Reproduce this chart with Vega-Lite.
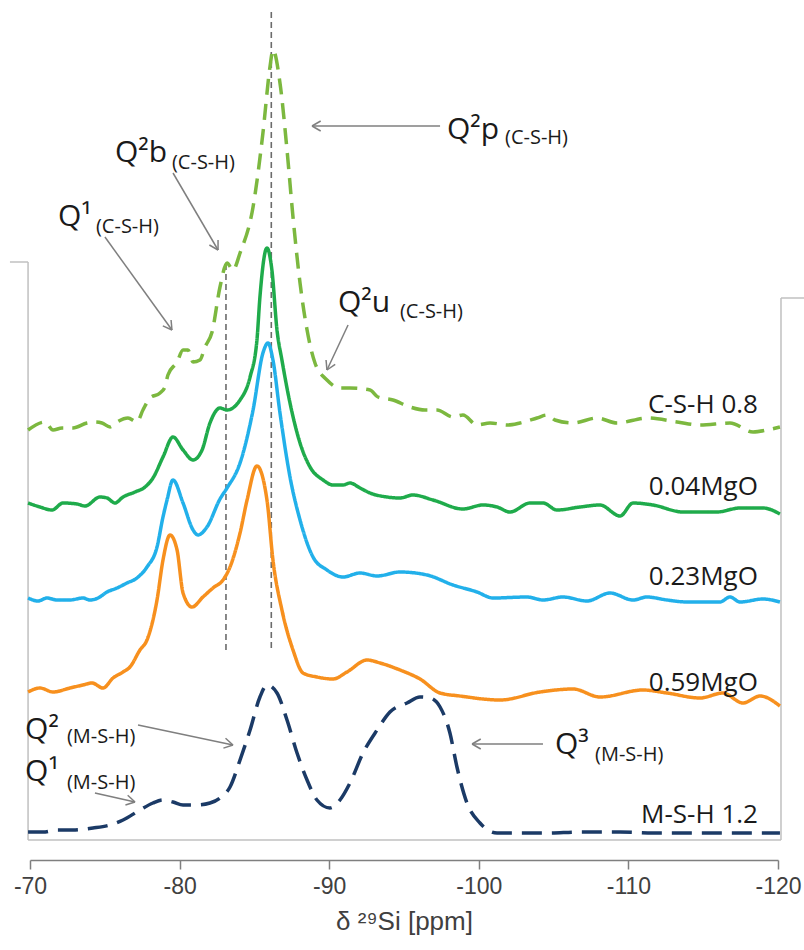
{
  "$schema": "https://vega.github.io/schema/vega-lite/v6.json",
  "width": 748,
  "height": 830,
  "autosize": {"type": "none"},
  "padding": {"left": 30, "top": 10, "right": 26, "bottom": 110},
  "background": "white",
  "config": {"view": {"stroke": null}},
  "datasets": {
    "spectra": [
      {"s":"C-S-H 0.8","ppm":-69.87,"y":410},{"s":"C-S-H 0.8","ppm":-71.00,"y":418},{"s":"C-S-H 0.8","ppm":-71.54,"y":410},{"s":"C-S-H 0.8","ppm":-72.14,"y":412},{"s":"C-S-H 0.8","ppm":-72.87,"y":412},{"s":"C-S-H 0.8","ppm":-73.81,"y":417},{"s":"C-S-H 0.8","ppm":-74.34,"y":418},{"s":"C-S-H 0.8","ppm":-74.81,"y":417},{"s":"C-S-H 0.8","ppm":-75.35,"y":413},{"s":"C-S-H 0.8","ppm":-75.82,"y":418},{"s":"C-S-H 0.8","ppm":-76.55,"y":422},{"s":"C-S-H 0.8","ppm":-77.15,"y":418},{"s":"C-S-H 0.8","ppm":-77.55,"y":430},{"s":"C-S-H 0.8","ppm":-78.02,"y":442},{"s":"C-S-H 0.8","ppm":-78.69,"y":447},{"s":"C-S-H 0.8","ppm":-79.02,"y":453},{"s":"C-S-H 0.8","ppm":-79.22,"y":465},{"s":"C-S-H 0.8","ppm":-79.83,"y":478},{"s":"C-S-H 0.8","ppm":-80.23,"y":490},{"s":"C-S-H 0.8","ppm":-80.56,"y":490},{"s":"C-S-H 0.8","ppm":-80.90,"y":478},{"s":"C-S-H 0.8","ppm":-81.36,"y":480},{"s":"C-S-H 0.8","ppm":-81.70,"y":493},{"s":"C-S-H 0.8","ppm":-82.17,"y":508},{"s":"C-S-H 0.8","ppm":-82.70,"y":553},{"s":"C-S-H 0.8","ppm":-83.17,"y":577},{"s":"C-S-H 0.8","ppm":-83.57,"y":570},{"s":"C-S-H 0.8","ppm":-84.04,"y":587},{"s":"C-S-H 0.8","ppm":-84.91,"y":633},{"s":"C-S-H 0.8","ppm":-85.57,"y":707},{"s":"C-S-H 0.8","ppm":-86.04,"y":773},{"s":"C-S-H 0.8","ppm":-86.24,"y":790},{"s":"C-S-H 0.8","ppm":-86.71,"y":757},{"s":"C-S-H 0.8","ppm":-87.18,"y":690},{"s":"C-S-H 0.8","ppm":-87.58,"y":623},{"s":"C-S-H 0.8","ppm":-88.05,"y":557},{"s":"C-S-H 0.8","ppm":-88.52,"y":510},{"s":"C-S-H 0.8","ppm":-89.05,"y":477},{"s":"C-S-H 0.8","ppm":-89.85,"y":460},{"s":"C-S-H 0.8","ppm":-90.72,"y":452},{"s":"C-S-H 0.8","ppm":-91.39,"y":452},{"s":"C-S-H 0.8","ppm":-92.73,"y":450},{"s":"C-S-H 0.8","ppm":-93.26,"y":443},{"s":"C-S-H 0.8","ppm":-94.26,"y":440},{"s":"C-S-H 0.8","ppm":-95.40,"y":433},{"s":"C-S-H 0.8","ppm":-96.40,"y":430},{"s":"C-S-H 0.8","ppm":-97.21,"y":430},{"s":"C-S-H 0.8","ppm":-98.28,"y":423},{"s":"C-S-H 0.8","ppm":-98.94,"y":425},{"s":"C-S-H 0.8","ppm":-99.88,"y":415},{"s":"C-S-H 0.8","ppm":-100.75,"y":417},{"s":"C-S-H 0.8","ppm":-101.95,"y":415},{"s":"C-S-H 0.8","ppm":-102.75,"y":417},{"s":"C-S-H 0.8","ppm":-103.89,"y":422},{"s":"C-S-H 0.8","ppm":-104.56,"y":425},{"s":"C-S-H 0.8","ppm":-105.09,"y":420},{"s":"C-S-H 0.8","ppm":-106.30,"y":417},{"s":"C-S-H 0.8","ppm":-107.90,"y":422},{"s":"C-S-H 0.8","ppm":-109.24,"y":417},{"s":"C-S-H 0.8","ppm":-111.24,"y":422},{"s":"C-S-H 0.8","ppm":-113.25,"y":418},{"s":"C-S-H 0.8","ppm":-114.79,"y":415},{"s":"C-S-H 0.8","ppm":-116.79,"y":417},{"s":"C-S-H 0.8","ppm":-118.33,"y":408},{"s":"C-S-H 0.8","ppm":-119.27,"y":410},{"s":"C-S-H 0.8","ppm":-120.13,"y":413},

      {"s":"0.04MgO","ppm":-69.87,"y":337},{"s":"0.04MgO","ppm":-70.67,"y":333},{"s":"0.04MgO","ppm":-71.47,"y":330},{"s":"0.04MgO","ppm":-72.21,"y":337},{"s":"0.04MgO","ppm":-73.14,"y":336},{"s":"0.04MgO","ppm":-73.68,"y":334},{"s":"0.04MgO","ppm":-74.68,"y":343},{"s":"0.04MgO","ppm":-75.15,"y":342},{"s":"0.04MgO","ppm":-75.68,"y":337},{"s":"0.04MgO","ppm":-76.22,"y":343},{"s":"0.04MgO","ppm":-77.02,"y":348},{"s":"0.04MgO","ppm":-77.69,"y":353},{"s":"0.04MgO","ppm":-78.22,"y":362},{"s":"0.04MgO","ppm":-78.89,"y":383},{"s":"0.04MgO","ppm":-79.56,"y":403},{"s":"0.04MgO","ppm":-80.23,"y":390},{"s":"0.04MgO","ppm":-80.90,"y":380},{"s":"0.04MgO","ppm":-81.50,"y":390},{"s":"0.04MgO","ppm":-82.03,"y":417},{"s":"0.04MgO","ppm":-82.70,"y":432},{"s":"0.04MgO","ppm":-83.17,"y":430},{"s":"0.04MgO","ppm":-84.04,"y":440},{"s":"0.04MgO","ppm":-84.71,"y":463},{"s":"0.04MgO","ppm":-85.17,"y":500},{"s":"0.04MgO","ppm":-85.37,"y":543},{"s":"0.04MgO","ppm":-85.84,"y":592},{"s":"0.04MgO","ppm":-86.17,"y":570},{"s":"0.04MgO","ppm":-86.51,"y":510},{"s":"0.04MgO","ppm":-86.84,"y":480},{"s":"0.04MgO","ppm":-87.38,"y":437},{"s":"0.04MgO","ppm":-88.05,"y":397},{"s":"0.04MgO","ppm":-88.72,"y":373},{"s":"0.04MgO","ppm":-89.59,"y":360},{"s":"0.04MgO","ppm":-90.25,"y":355},{"s":"0.04MgO","ppm":-90.92,"y":355},{"s":"0.04MgO","ppm":-91.39,"y":357},{"s":"0.04MgO","ppm":-92.06,"y":352},{"s":"0.04MgO","ppm":-92.73,"y":347},{"s":"0.04MgO","ppm":-93.86,"y":343},{"s":"0.04MgO","ppm":-94.73,"y":342},{"s":"0.04MgO","ppm":-95.60,"y":345},{"s":"0.04MgO","ppm":-96.94,"y":340},{"s":"0.04MgO","ppm":-98.94,"y":331},{"s":"0.04MgO","ppm":-100.28,"y":335},{"s":"0.04MgO","ppm":-101.22,"y":333},{"s":"0.04MgO","ppm":-102.09,"y":328},{"s":"0.04MgO","ppm":-103.42,"y":337},{"s":"0.04MgO","ppm":-104.29,"y":337},{"s":"0.04MgO","ppm":-105.23,"y":330},{"s":"0.04MgO","ppm":-106.76,"y":333},{"s":"0.04MgO","ppm":-108.10,"y":335},{"s":"0.04MgO","ppm":-109.44,"y":324},{"s":"0.04MgO","ppm":-110.31,"y":337},{"s":"0.04MgO","ppm":-111.64,"y":335},{"s":"0.04MgO","ppm":-113.65,"y":328},{"s":"0.04MgO","ppm":-115.92,"y":328},{"s":"0.04MgO","ppm":-117.46,"y":332},{"s":"0.04MgO","ppm":-119.00,"y":332},{"s":"0.04MgO","ppm":-120.13,"y":326},

      {"s":"0.23MgO","ppm":-69.87,"y":242},{"s":"0.23MgO","ppm":-70.53,"y":239},{"s":"0.23MgO","ppm":-71.14,"y":242},{"s":"0.23MgO","ppm":-71.80,"y":240},{"s":"0.23MgO","ppm":-72.67,"y":240},{"s":"0.23MgO","ppm":-73.54,"y":242},{"s":"0.23MgO","ppm":-74.01,"y":240},{"s":"0.23MgO","ppm":-74.55,"y":242},{"s":"0.23MgO","ppm":-75.15,"y":248},{"s":"0.23MgO","ppm":-75.82,"y":252},{"s":"0.23MgO","ppm":-76.48,"y":257},{"s":"0.23MgO","ppm":-77.15,"y":262},{"s":"0.23MgO","ppm":-77.82,"y":273},{"s":"0.23MgO","ppm":-78.49,"y":293},{"s":"0.23MgO","ppm":-78.89,"y":323},{"s":"0.23MgO","ppm":-79.16,"y":340},{"s":"0.23MgO","ppm":-79.56,"y":360},{"s":"0.23MgO","ppm":-80.23,"y":337},{"s":"0.23MgO","ppm":-80.90,"y":310},{"s":"0.23MgO","ppm":-81.23,"y":305},{"s":"0.23MgO","ppm":-81.83,"y":313},{"s":"0.23MgO","ppm":-82.70,"y":341},{"s":"0.23MgO","ppm":-83.17,"y":352},{"s":"0.23MgO","ppm":-84.04,"y":377},{"s":"0.23MgO","ppm":-84.91,"y":430},{"s":"0.23MgO","ppm":-85.57,"y":487},{"s":"0.23MgO","ppm":-85.91,"y":497},{"s":"0.23MgO","ppm":-86.24,"y":480},{"s":"0.23MgO","ppm":-86.71,"y":427},{"s":"0.23MgO","ppm":-87.38,"y":363},{"s":"0.23MgO","ppm":-88.05,"y":320},{"s":"0.23MgO","ppm":-88.92,"y":283},{"s":"0.23MgO","ppm":-89.85,"y":270},{"s":"0.23MgO","ppm":-90.92,"y":263},{"s":"0.23MgO","ppm":-92.06,"y":267},{"s":"0.23MgO","ppm":-93.20,"y":264},{"s":"0.23MgO","ppm":-94.73,"y":268},{"s":"0.23MgO","ppm":-96.54,"y":265},{"s":"0.23MgO","ppm":-98.28,"y":255},{"s":"0.23MgO","ppm":-99.88,"y":248},{"s":"0.23MgO","ppm":-100.95,"y":242},{"s":"0.23MgO","ppm":-103.22,"y":243},{"s":"0.23MgO","ppm":-104.29,"y":240},{"s":"0.23MgO","ppm":-105.63,"y":243},{"s":"0.23MgO","ppm":-107.23,"y":239},{"s":"0.23MgO","ppm":-108.77,"y":247},{"s":"0.23MgO","ppm":-110.31,"y":240},{"s":"0.23MgO","ppm":-111.24,"y":243},{"s":"0.23MgO","ppm":-112.58,"y":240},{"s":"0.23MgO","ppm":-113.92,"y":238},{"s":"0.23MgO","ppm":-116.12,"y":238},{"s":"0.23MgO","ppm":-116.79,"y":243},{"s":"0.23MgO","ppm":-117.46,"y":238},{"s":"0.23MgO","ppm":-119.00,"y":241},{"s":"0.23MgO","ppm":-120.13,"y":238},

      {"s":"0.59MgO","ppm":-69.87,"y":148},{"s":"0.59MgO","ppm":-70.67,"y":152},{"s":"0.59MgO","ppm":-71.54,"y":148},{"s":"0.59MgO","ppm":-72.67,"y":152},{"s":"0.59MgO","ppm":-73.54,"y":155},{"s":"0.59MgO","ppm":-74.14,"y":157},{"s":"0.59MgO","ppm":-74.88,"y":152},{"s":"0.59MgO","ppm":-75.55,"y":162},{"s":"0.59MgO","ppm":-76.22,"y":168},{"s":"0.59MgO","ppm":-76.68,"y":173},{"s":"0.59MgO","ppm":-77.35,"y":190},{"s":"0.59MgO","ppm":-77.82,"y":200},{"s":"0.59MgO","ppm":-78.49,"y":240},{"s":"0.59MgO","ppm":-78.89,"y":280},{"s":"0.59MgO","ppm":-79.36,"y":305},{"s":"0.59MgO","ppm":-79.83,"y":290},{"s":"0.59MgO","ppm":-80.23,"y":247},{"s":"0.59MgO","ppm":-80.83,"y":233},{"s":"0.59MgO","ppm":-81.56,"y":243},{"s":"0.59MgO","ppm":-82.23,"y":252},{"s":"0.59MgO","ppm":-82.90,"y":260},{"s":"0.59MgO","ppm":-83.37,"y":273},{"s":"0.59MgO","ppm":-84.04,"y":307},{"s":"0.59MgO","ppm":-84.51,"y":340},{"s":"0.59MgO","ppm":-85.17,"y":374},{"s":"0.59MgO","ppm":-85.84,"y":340},{"s":"0.59MgO","ppm":-86.24,"y":280},{"s":"0.59MgO","ppm":-86.84,"y":230},{"s":"0.59MgO","ppm":-87.58,"y":190},{"s":"0.59MgO","ppm":-88.25,"y":167},{"s":"0.59MgO","ppm":-89.18,"y":163},{"s":"0.59MgO","ppm":-90.25,"y":161},{"s":"0.59MgO","ppm":-91.19,"y":168},{"s":"0.59MgO","ppm":-92.53,"y":180},{"s":"0.59MgO","ppm":-93.40,"y":177},{"s":"0.59MgO","ppm":-94.73,"y":170},{"s":"0.59MgO","ppm":-96.07,"y":161},{"s":"0.59MgO","ppm":-97.41,"y":147},{"s":"0.59MgO","ppm":-98.74,"y":144},{"s":"0.59MgO","ppm":-101.42,"y":140},{"s":"0.59MgO","ppm":-104.09,"y":148},{"s":"0.59MgO","ppm":-106.30,"y":151},{"s":"0.59MgO","ppm":-108.10,"y":143},{"s":"0.59MgO","ppm":-110.98,"y":150},{"s":"0.59MgO","ppm":-112.58,"y":147},{"s":"0.59MgO","ppm":-114.79,"y":142},{"s":"0.59MgO","ppm":-116.32,"y":147},{"s":"0.59MgO","ppm":-117.66,"y":137},{"s":"0.59MgO","ppm":-118.80,"y":144},{"s":"0.59MgO","ppm":-120.13,"y":134},

      {"s":"M-S-H 1.2","ppm":-69.87,"y":8},{"s":"M-S-H 1.2","ppm":-70.87,"y":8},{"s":"M-S-H 1.2","ppm":-71.80,"y":10},{"s":"M-S-H 1.2","ppm":-72.87,"y":10},{"s":"M-S-H 1.2","ppm":-74.21,"y":12},{"s":"M-S-H 1.2","ppm":-75.35,"y":15},{"s":"M-S-H 1.2","ppm":-76.22,"y":20},{"s":"M-S-H 1.2","ppm":-77.35,"y":30},{"s":"M-S-H 1.2","ppm":-78.22,"y":37},{"s":"M-S-H 1.2","ppm":-78.89,"y":40},{"s":"M-S-H 1.2","ppm":-79.56,"y":38},{"s":"M-S-H 1.2","ppm":-80.23,"y":35},{"s":"M-S-H 1.2","ppm":-81.16,"y":35},{"s":"M-S-H 1.2","ppm":-82.03,"y":37},{"s":"M-S-H 1.2","ppm":-82.70,"y":42},{"s":"M-S-H 1.2","ppm":-83.37,"y":53},{"s":"M-S-H 1.2","ppm":-84.04,"y":80},{"s":"M-S-H 1.2","ppm":-84.71,"y":110},{"s":"M-S-H 1.2","ppm":-85.37,"y":143},{"s":"M-S-H 1.2","ppm":-85.84,"y":155},{"s":"M-S-H 1.2","ppm":-86.51,"y":147},{"s":"M-S-H 1.2","ppm":-87.18,"y":120},{"s":"M-S-H 1.2","ppm":-87.85,"y":87},{"s":"M-S-H 1.2","ppm":-88.52,"y":60},{"s":"M-S-H 1.2","ppm":-89.18,"y":40},{"s":"M-S-H 1.2","ppm":-90.05,"y":32},{"s":"M-S-H 1.2","ppm":-90.72,"y":40},{"s":"M-S-H 1.2","ppm":-91.39,"y":57},{"s":"M-S-H 1.2","ppm":-92.26,"y":87},{"s":"M-S-H 1.2","ppm":-93.20,"y":110},{"s":"M-S-H 1.2","ppm":-94.06,"y":128},{"s":"M-S-H 1.2","ppm":-95.20,"y":137},{"s":"M-S-H 1.2","ppm":-96.07,"y":143},{"s":"M-S-H 1.2","ppm":-96.74,"y":142},{"s":"M-S-H 1.2","ppm":-97.41,"y":133},{"s":"M-S-H 1.2","ppm":-98.07,"y":107},{"s":"M-S-H 1.2","ppm":-98.54,"y":73},{"s":"M-S-H 1.2","ppm":-99.21,"y":37},{"s":"M-S-H 1.2","ppm":-100.08,"y":17},{"s":"M-S-H 1.2","ppm":-101.22,"y":7},{"s":"M-S-H 1.2","ppm":-102.29,"y":7},{"s":"M-S-H 1.2","ppm":-104.56,"y":7},{"s":"M-S-H 1.2","ppm":-106.76,"y":8},{"s":"M-S-H 1.2","ppm":-109.44,"y":8},{"s":"M-S-H 1.2","ppm":-111.64,"y":7},{"s":"M-S-H 1.2","ppm":-113.92,"y":7},{"s":"M-S-H 1.2","ppm":-116.12,"y":7},{"s":"M-S-H 1.2","ppm":-118.33,"y":7},{"s":"M-S-H 1.2","ppm":-120.13,"y":7}
    ],
    "frame": [
      {"ppm":-69.87,"y":578,"ppm2":-69.87,"y2":0},
      {"ppm":-68.66,"y":578,"ppm2":-69.87,"y2":578},
      {"ppm":-69.87,"y":0,"ppm2":-120.2,"y2":0},
      {"ppm":-120.2,"y":0,"ppm2":-120.2,"y2":542},
      {"ppm":-120.2,"y":542,"ppm2":-121.74,"y2":542}
    ],
    "guides": [
      {"ppm":-83.1,"y":190,"ppm2":-83.1,"y2":578},
      {"ppm":-86.13,"y":192,"ppm2":-86.13,"y2":830}
    ],
    "arrows": [
      {"ppm":-97.41,"y":714,"ppm2":-88.85,"y2":714},{"ppm":-88.85,"y":714,"ppm2":-89.43,"y2":719},{"ppm":-88.85,"y":714,"ppm2":-89.43,"y2":709},
      {"ppm":-79.56,"y":667,"ppm2":-82.57,"y2":590},{"ppm":-82.57,"y":590,"ppm2":-82.57,"y2":600},{"ppm":-82.57,"y":590,"ppm2":-81.99,"y2":595},
      {"ppm":-75.01,"y":603,"ppm2":-79.49,"y2":510},{"ppm":-79.49,"y":510,"ppm2":-79.43,"y2":520},{"ppm":-79.49,"y":510,"ppm2":-78.88,"y2":514.1},
      {"ppm":-91.26,"y":515,"ppm2":-89.85,"y2":470},{"ppm":-89.85,"y":470,"ppm2":-90.40,"y2":475.7},{"ppm":-89.85,"y":470,"ppm2":-89.79,"y2":480},
      {"ppm":-77.22,"y":115,"ppm2":-83.57,"y2":95},{"ppm":-83.57,"y":95,"ppm2":-83.07,"y2":101.7},{"ppm":-83.57,"y":95,"ppm2":-82.93,"y2":91.9},
      {"ppm":-74.34,"y":47,"ppm2":-77.02,"y2":38},{"ppm":-77.02,"y":38,"ppm2":-76.53,"y2":44.8},{"ppm":-77.02,"y":38,"ppm2":-76.38,"y2":35},
      {"ppm":-104.29,"y":96,"ppm2":-99.55,"y2":96},{"ppm":-99.55,"y":96,"ppm2":-100.13,"y2":101},{"ppm":-99.55,"y":96,"ppm2":-100.13,"y2":91}
    ],
    "qmain": [
      {"t":"Q²p","ppm":-97.87,"y":710},
      {"t":"Q²b","ppm":-75.68,"y":687},
      {"t":"Q¹","ppm":-71.87,"y":623},
      {"t":"Q²u","ppm":-90.59,"y":537},
      {"t":"Q²","ppm":-69.67,"y":110},
      {"t":"Q¹","ppm":-69.67,"y":68},
      {"t":"Q³","ppm":-105.09,"y":95}
    ],
    "qsub": [
      {"t":"(C-S-H)","ppm":-101.75,"y":702},
      {"t":"(C-S-H)","ppm":-79.49,"y":677},
      {"t":"(C-S-H)","ppm":-74.41,"y":613},
      {"t":"(C-S-H)","ppm":-94.73,"y":528},
      {"t":"(M-S-H)","ppm":-72.47,"y":103},
      {"t":"(M-S-H)","ppm":-72.47,"y":57},
      {"t":"(M-S-H)","ppm":-107.77,"y":85}
    ],
    "labels": [
      {"t":"C-S-H 0.8","ppm":-118.66,"y":435},
      {"t":"0.04MgO","ppm":-118.66,"y":353},
      {"t":"0.23MgO","ppm":-118.66,"y":263},
      {"t":"0.59MgO","ppm":-118.66,"y":157},
      {"t":"M-S-H 1.2","ppm":-118.66,"y":25}
    ]
  },
  "encoding": {
    "x": {
      "field": "ppm", "type": "quantitative",
      "scale": {"domain": [-70, -120], "nice": false, "zero": false},
      "axis": {
        "title": "δ ²⁹Si [ppm]",
        "values": [-70, -80, -90, -100, -110, -120],
        "labelExpr": "'-' + abs(datum.value)",
        "offset": 20, "grid": false,
        "domainColor": "#7f7f7f", "domainWidth": 1.5,
        "tickColor": "#7f7f7f", "tickWidth": 1.5, "tickSize": 9,
        "labelFont": "Liberation Sans", "labelFontSize": 23, "labelColor": "#404040", "labelPadding": 6, "labelFlush": false,
        "titleFont": "Liberation Sans", "titleFontSize": 26, "titleFontWeight": "normal", "titleColor": "#404040", "titlePadding": 10
      }
    },
    "y": {
      "field": "y", "type": "quantitative",
      "scale": {"domain": [0, 830], "nice": false, "zero": false},
      "axis": null
    }
  },
  "layer": [
    {
      "data": {"name": "frame"},
      "mark": {"type": "rule", "color": "#c0c0c0", "strokeWidth": 1.5},
      "encoding": {"x2": {"field": "ppm2"}, "y2": {"field": "y2"}}
    },
    {
      "data": {"name": "guides"},
      "mark": {"type": "rule", "color": "#6b6b6b", "strokeWidth": 1.6, "strokeDash": [6, 4]},
      "encoding": {"x2": {"field": "ppm2"}, "y2": {"field": "y2"}}
    },
    {
      "data": {"name": "spectra"},
      "mark": {"type": "line", "strokeWidth": 3.5, "interpolate": "monotone"},
      "encoding": {
        "color": {
          "field": "s", "type": "nominal", "legend": null,
          "scale": {"domain": ["C-S-H 0.8", "0.04MgO", "0.23MgO", "0.59MgO", "M-S-H 1.2"],
                    "range": ["#7cb83f", "#1fab4b", "#22b0ea", "#f7901e", "#1b3a66"]}
        },
        "strokeDash": {
          "field": "s", "type": "nominal", "legend": null,
          "scale": {"domain": ["C-S-H 0.8", "0.04MgO", "0.23MgO", "0.59MgO", "M-S-H 1.2"],
                    "range": [[16, 9], [1, 0], [1, 0], [1, 0], [20, 10]]}
        }
      }
    },
    {
      "data": {"name": "arrows"},
      "mark": {"type": "rule", "color": "#7f7f7f", "strokeWidth": 1.5},
      "encoding": {"x2": {"field": "ppm2"}, "y2": {"field": "y2"}}
    },
    {
      "data": {"name": "qmain"},
      "mark": {"type": "text", "align": "left", "baseline": "middle", "font": "Open Sans", "fontSize": 30, "color": "#1a1a1a"},
      "encoding": {"text": {"field": "t"}}
    },
    {
      "data": {"name": "qsub"},
      "mark": {"type": "text", "align": "left", "baseline": "middle", "font": "Open Sans", "fontSize": 20, "color": "#1a1a1a"},
      "encoding": {"text": {"field": "t"}}
    },
    {
      "data": {"name": "labels"},
      "mark": {"type": "text", "align": "right", "baseline": "middle", "font": "Open Sans", "fontSize": 26, "color": "#1a1a1a"},
      "encoding": {"text": {"field": "t"}}
    }
  ]
}
